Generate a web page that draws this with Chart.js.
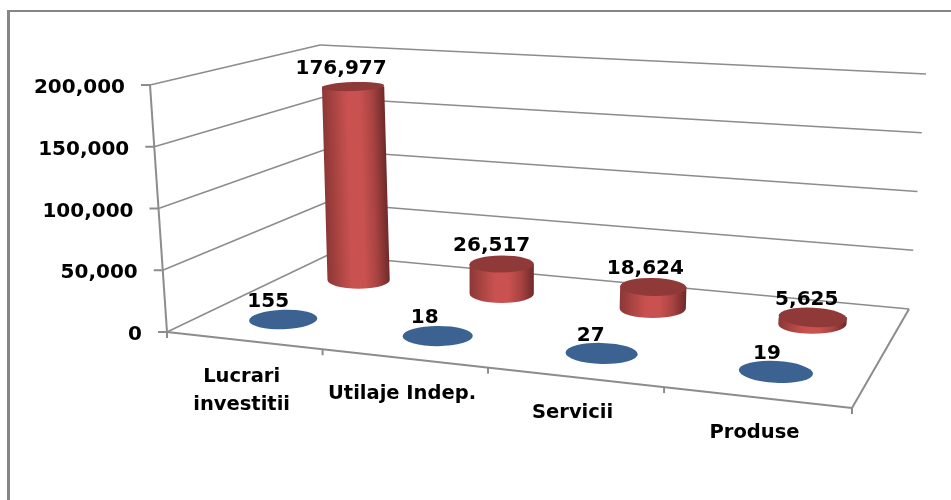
<!DOCTYPE html>
<html>
<head>
<meta charset="utf-8">
<style>
  html, body { margin: 0; padding: 0; background: #fff; }
  canvas { display: block; }
</style>
<script src="https://cdn.jsdelivr.net/npm/chart.js@4/dist/chart.umd.js"></script>
</head>
<body>
<canvas id="c" width="951" height="500"></canvas>
<script>
const categories = [['Lucrari', 'investitii'], 'Utilaje Indep.', 'Servicii', 'Produse'];
const frontSeries = [155, 18, 27, 19];
const backSeries = [176977, 26517, 18624, 5625];
const yTicks = [0, 50000, 100000, 150000, 200000];

const DATA_FONT = 'bold 20px "DejaVu Sans"';
const CAT_FONT = 'bold 19.5px "DejaVu Sans"';
const GRID = '#8c8c8c';

// corners of the 3D floor on screen: front-left, front-right, back-right, back-left
const floorQuad = [[167, 332], [852, 408], [909, 309], [328, 255]];
// how far each corner moves on screen going from 0 to the axis maximum
const riseQuad = [[-17, -247], [5, -272], [17, -235], [-8, -210]];

function quadMap(q) {
    const [[x0, y0], [x1, y1], [x2, y2], [x3, y3]] = q;
    const dx1 = x1 - x2, dx2 = x3 - x2, sx = x0 - x1 + x2 - x3;
    const dy1 = y1 - y2, dy2 = y3 - y2, sy = y0 - y1 + y2 - y3;
    const den = dx1 * dy2 - dx2 * dy1;
    const g = (sx * dy2 - dx2 * sy) / den;
    const h = (dx1 * sy - sx * dy1) / den;
    const a = x1 - x0 + g * x1, b = x3 - x0 + h * x3;
    const d = y1 - y0 + g * y1, e = y3 - y0 + h * y3;
    return (u, v) => {
        const w = g * u + h * v + 1;
        return [(a * u + b * v + x0) / w, (d * u + e * v + y0) / w];
    };
}
const floorAt = quadMap(floorQuad);

// u across the categories, v into the depth, t up the value axis (all 0..1)
function project(u, v, t) {
    const f = floorAt(u, v), dv = Math.sqrt(v);
    const rise = k => (1 - dv) * ((1 - u) * riseQuad[0][k] + u * riseQuad[1][k])
        + dv * (u * riseQuad[2][k] + (1 - u) * riseQuad[3][k]);
    return [f[0] + rise(0) * t, f[1] + rise(1) * t];
}

function line(ctx, a, b, width) {
    ctx.lineWidth = width;
    ctx.beginPath();
    ctx.moveTo(a[0], a[1]);
    ctx.lineTo(b[0], b[1]);
    ctx.stroke();
}

function text(ctx, str, x, y, font, align) {
    ctx.font = font;
    ctx.fillStyle = '#000';
    ctx.textAlign = align || 'center';
    ctx.textBaseline = 'middle';
    ctx.fillText(str, x, y);
}

function drawCylinder(ctx, u, v, t, colors) {
    const base = project(u, v, 0), top = project(u, v, t);
    const rx = 35 - 6 * v + 4 * u;
    const tilt = -0.05 + 0.12 * u;
    const ryAt = y => 2.5 + 0.0227 * y;

    if (base[1] - top[1] > 0.5) {
        const ax = base[0] - top[0], ay = base[1] - top[1], len = Math.hypot(ax, ay);
        const nx = ay / len * rx, ny = -ax / len * rx;
        const mx = (base[0] + top[0]) / 2, my = (base[1] + top[1]) / 2;
        const grad = ctx.createLinearGradient(mx - nx, my - ny, mx + nx, my + ny);
        colors.side.forEach((c, i) => grad.addColorStop(i / (colors.side.length - 1), c));
        ctx.fillStyle = grad;
        ctx.beginPath();
        ctx.moveTo(top[0] + rx, top[1]);
        ctx.lineTo(base[0] + rx, base[1]);
        ctx.ellipse(base[0], base[1], rx, ryAt(base[1]), 0, 0, Math.PI);
        ctx.lineTo(top[0] - rx, top[1]);
        ctx.closePath();
        ctx.fill();
    }
    ctx.fillStyle = colors.top;
    ctx.beginPath();
    ctx.ellipse(top[0], top[1], rx, ryAt(top[1]), tilt, 0, Math.PI * 2);
    ctx.fill();
    return top;
}

const box3d = {
    id: 'box3d',
    beforeDraw(chart) {
        const ctx = chart.ctx;
        ctx.save();
        ctx.fillStyle = '#fff';
        ctx.fillRect(0, 0, chart.width, chart.height);
        ctx.fillStyle = '#868686';
        ctx.fillRect(7, 10, chart.width - 7, 2);
        ctx.fillRect(7, 10, 3, chart.height - 10);
        ctx.restore();
    },
    beforeDatasetsDraw(chart) {
        const ctx = chart.ctx, xs = chart.scales.x, ys = chart.scales.y;
        const area = chart.chartArea;
        const uOf = i => (xs.getPixelForValue(i) - area.left) / area.width;
        const tOf = val => (area.bottom - ys.getPixelForValue(val)) / area.height;

        ctx.save();
        ctx.strokeStyle = GRID;
        ctx.lineCap = 'butt';

        // walls
        yTicks.forEach(val => {
            const t = tOf(val);
            const fl = project(0, 0, t), bl = project(0, 1, t), br = project(1, 1, t);
            line(ctx, fl, bl, 1.5);
            line(ctx, bl, br, 1.5);
            line(ctx, [fl[0] - 9, fl[1]], fl, 2);
        });
        // value axis
        line(ctx, project(0, 0, 0), project(0, 0, 1), 2);
        // floor edges and category ticks
        line(ctx, floorQuad[0], floorQuad[1], 2);
        line(ctx, floorQuad[1], floorQuad[2], 2);
        categories.concat([null]).forEach((_, i) => {
            const p = project(i / categories.length, 0, 0);
            line(ctx, p, [p[0], p[1] + 6], 2);
        });

        // cylinders, back row first
        const labelsToDraw = [];
        [1, 0].forEach(di => {
            const ds = chart.data.datasets[di];
            ds.data.forEach((val, i) => {
                const u = uOf(i);
                const top = drawCylinder(ctx, u, ds.depth, tOf(val), ds.look);
                labelsToDraw.push([val.toLocaleString('en-US'), top[0] - 16 + 8 * u + 6 * (ds.depth - 0.23), top[1] - 18]);
            });
        });

        // texts
        labelsToDraw.forEach(l => text(ctx, l[0], l[1], l[2], DATA_FONT));
        ys.ticks.forEach(tk => {
            const p = project(0, 0, tOf(tk.value));
            text(ctx, tk.value.toLocaleString('en-US'), p[0] - 25, p[1] + 3, DATA_FONT, 'right');
        });
        chart.data.labels.forEach((lab, i) => {
            const p = project(uOf(i), 0, 0);
            const rows = Array.isArray(lab) ? lab : [lab];
            rows.forEach((row, r) => text(ctx, row, p[0] - 2, p[1] + 36 + r * 28, CAT_FONT));
        });
        ctx.restore();
        return false;
    }
};

new Chart(document.getElementById('c'), {
    type: 'bar',
    plugins: [box3d],
    data: {
        labels: categories,
        datasets: [
            {
                label: 'Front', data: frontSeries, depth: 0.23, backgroundColor: '#3c6291',
                look: { top: '#3c6291', side: ['#2f4f76', '#3c6291', '#2f4f76'] }
            },
            {
                label: 'Back', data: backSeries, depth: 0.73, backgroundColor: '#c95250',
                look: { top: '#8f3a38', side: ['#8c3735', '#ab4543', '#c95250', '#c95250', '#a84342', '#6e2a29'] }
            }
        ]
    },
    options: {
        responsive: false,
        animation: false,
        events: [],
        layout: { padding: { left: 167, right: 99, top: 85, bottom: 168 } },
        plugins: { legend: { display: false }, tooltip: { enabled: false }, title: { display: false } },
        scales: {
            x: { display: false },
            y: {
                display: false,
                min: 0,
                max: 200000,
                afterBuildTicks(scale) { scale.ticks = yTicks.map(value => ({ value })); }
            }
        }
    }
});
</script>
</body>
</html>
